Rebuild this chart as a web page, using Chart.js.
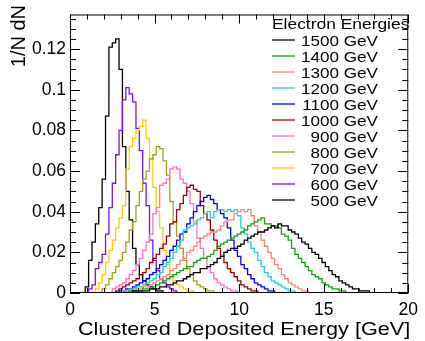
<!DOCTYPE html>
<html>
<head>
<meta charset="utf-8">
<script src="https://cdn.jsdelivr.net/npm/chart.js@4.4.1/dist/chart.umd.min.js"></script>
<style>
  html, body { margin: 0; padding: 0; background: #fff; }
  canvas { display: block; }
</style>
</head>
<body>
<canvas id="hist" width="425" height="341"></canvas>
<script>
// histogram data, 0.2 GeV bins, 1/N dN per bin
const binWidth = 0.2;
const labels = ['1500 GeV', '1400 GeV', '1300 GeV', '1200 GeV', '1100 GeV', '1000 GeV',
  '900 GeV', '800 GeV', '700 GeV', '600 GeV', '500 GeV'];
// lower edge of the first non-empty bin of each histogram (same order as labels)
const firstBin = [3.7, 3.5, 3.3, 3.1, 2.9, 2.7, 2.5, 1.9, 1.5, 1.1, 0.9];

const h1500 = [0.001, 0.001, 0.001, 0.001, 0.001, 0.002, 0.002, 0.002, 0.003, 0.003,
  0.004, 0.004, 0.005, 0.006, 0.006, 0.007, 0.008, 0.009, 0.010, 0.010,
  0.012, 0.012, 0.013, 0.014, 0.015, 0.017, 0.018, 0.020, 0.021, 0.022,
  0.022, 0.023, 0.024, 0.026, 0.027, 0.028, 0.029, 0.030, 0.030, 0.031,
  0.032, 0.033, 0.032, 0.034, 0.033, 0.033, 0.031, 0.030, 0.029, 0.027,
  0.025, 0.024, 0.022, 0.020, 0.019, 0.017, 0.015, 0.013, 0.011, 0.009,
  0.008, 0.006, 0.005, 0.004, 0.003, 0.002, 0.002, 0.001, 0.001, 0.001];
const h1400 = [0.001, 0.001, 0.001, 0.001, 0.002, 0.002, 0.002, 0.003, 0.004, 0.005,
  0.006, 0.007, 0.008, 0.009, 0.010, 0.011, 0.012, 0.013, 0.013, 0.015,
  0.016, 0.017, 0.017, 0.018, 0.019, 0.021, 0.023, 0.024, 0.025, 0.026,
  0.027, 0.028, 0.029, 0.030, 0.031, 0.033, 0.034, 0.035, 0.036, 0.037,
  0.034, 0.034, 0.033, 0.033, 0.032, 0.029, 0.028, 0.026, 0.022, 0.019,
  0.017, 0.015, 0.013, 0.011, 0.009, 0.008, 0.007, 0.005, 0.004, 0.003,
  0.002, 0.002, 0.001, 0.001];
const h1300 = [0.001, 0.001, 0.001, 0.002, 0.002, 0.003, 0.003, 0.004, 0.005, 0.006,
  0.007, 0.008, 0.009, 0.011, 0.012, 0.014, 0.016, 0.017, 0.020, 0.021,
  0.023, 0.025, 0.027, 0.028, 0.029, 0.030, 0.030, 0.031, 0.033, 0.035,
  0.036, 0.036, 0.039, 0.040, 0.041, 0.040, 0.041, 0.038, 0.033, 0.030,
  0.026, 0.023, 0.020, 0.017, 0.014, 0.012, 0.009, 0.007, 0.005, 0.004,
  0.003, 0.002, 0.001, 0.001];
const h1200 = [0.001, 0.001, 0.002, 0.002, 0.003, 0.003, 0.004, 0.005, 0.006, 0.007,
  0.009, 0.010, 0.013, 0.015, 0.017, 0.020, 0.023, 0.026, 0.031, 0.032,
  0.033, 0.034, 0.036, 0.037, 0.039, 0.040, 0.037, 0.040, 0.041, 0.041,
  0.040, 0.041, 0.040, 0.041, 0.038, 0.032, 0.029, 0.025, 0.022, 0.020,
  0.016, 0.013, 0.010, 0.008, 0.006, 0.005, 0.004, 0.003, 0.002, 0.001,
  0.001];
const h1100 = [0.001, 0.001, 0.002, 0.002, 0.003, 0.004, 0.005, 0.006, 0.007, 0.009,
  0.010, 0.012, 0.014, 0.016, 0.018, 0.021, 0.023, 0.026, 0.029, 0.030,
  0.034, 0.037, 0.040, 0.043, 0.045, 0.047, 0.048, 0.046, 0.044, 0.041,
  0.039, 0.037, 0.032, 0.026, 0.021, 0.018, 0.014, 0.012, 0.009, 0.007,
  0.005, 0.004, 0.003, 0.002, 0.001, 0.001];
const h1000 = [0.001, 0.002, 0.003, 0.004, 0.005, 0.006, 0.007, 0.009, 0.010, 0.012,
  0.015, 0.017, 0.019, 0.022, 0.024, 0.028, 0.034, 0.035, 0.041, 0.044,
  0.048, 0.052, 0.053, 0.051, 0.050, 0.043, 0.039, 0.036, 0.031, 0.026,
  0.022, 0.018, 0.015, 0.012, 0.010, 0.008, 0.006, 0.004, 0.003, 0.002,
  0.001, 0.001];
const h900 = [0.002, 0.003, 0.004, 0.005, 0.007, 0.009, 0.011, 0.014, 0.017, 0.021,
  0.025, 0.029, 0.039, 0.042, 0.053, 0.054, 0.056, 0.061, 0.062, 0.061,
  0.056, 0.054, 0.050, 0.044, 0.035, 0.027, 0.022, 0.017, 0.013, 0.010,
  0.007, 0.005, 0.004, 0.003, 0.002, 0.001, 0.001];
const h800 = [0.002, 0.004, 0.007, 0.010, 0.013, 0.016, 0.020, 0.025, 0.031, 0.035,
  0.043, 0.050, 0.056, 0.060, 0.066, 0.068, 0.072, 0.071, 0.065, 0.058,
  0.045, 0.035, 0.028, 0.022, 0.016, 0.012, 0.009, 0.006, 0.004, 0.003,
  0.002, 0.001, 0.001];
const h700 = [0.002, 0.005, 0.009, 0.015, 0.021, 0.026, 0.032, 0.037, 0.043, 0.061,
  0.072, 0.076, 0.080, 0.082, 0.085, 0.076, 0.066, 0.052, 0.040, 0.032,
  0.021, 0.014, 0.009, 0.006, 0.004, 0.003, 0.002, 0.001, 0.001];
const h600 = [0.002, 0.004, 0.012, 0.015, 0.019, 0.029, 0.042, 0.054, 0.068, 0.080,
  0.095, 0.101, 0.098, 0.094, 0.081, 0.070, 0.054, 0.043, 0.026, 0.016,
  0.011, 0.007, 0.005, 0.003, 0.002, 0.001];
const h500 = [0.003, 0.016, 0.025, 0.034, 0.042, 0.056, 0.087, 0.121, 0.123, 0.125,
  0.110, 0.072, 0.050, 0.036, 0.022, 0.014, 0.009, 0.006, 0.004, 0.003,
  0.002, 0.001, 0.001];

const histos = [h1500, h1400, h1300, h1200, h1100, h1000, h900, h800, h700, h600, h500];
const xTicks = [0, 5, 10, 15, 20];
const yTicks = [0, 0.02, 0.04, 0.06, 0.08, 0.1, 0.12];

const colors = ['#000000', '#12a012', '#ff8080', '#22d0d0', '#0000ff', '#a00000',
  '#ff6ec8', '#a3a010', '#ffcc00', '#7a10e6', '#000000'];
const FONT = "'Liberation Sans', Arial, sans-serif";

// outline of a histogram: run along 0, step through the bins, back to 0
function histPoints(start, values) {
  const pts = [{ x: xTicks[0], y: 0 }];
  values.forEach((v, k) => pts.push({ x: start + k * binWidth, y: v }));
  pts.push({ x: start + values.length * binWidth, y: 0 });
  pts.push({ x: xTicks[xTicks.length - 1], y: 0 });
  return pts;
}

// text drawn a bit wider, the original plot was stretched sideways
function wideText(ctx, str, x, y, align, sx) {
  ctx.save();
  ctx.translate(x, y);
  ctx.scale(sx, 1);
  ctx.textAlign = align;
  ctx.fillText(str, 0, 0);
  ctx.restore();
}

// ROOT style frame with inward ticks on all four sides + axis titles + legend
const rootDecor = {
  id: 'rootDecor',
  afterDatasetsDraw(chart) {
    const { ctx, chartArea: a, scales: { x, y } } = chart;
    ctx.save();
    ctx.strokeStyle = '#000';
    ctx.lineWidth = 1;
    ctx.strokeRect(a.left + 0.5, a.top + 0.5, a.right - a.left - 1, a.bottom - a.top - 1);

    ctx.beginPath();
    for (let v = x.min; v <= x.max; v += 1) {
      const px = Math.round(x.getPixelForValue(v)) + 0.5;
      const len = v % 5 === 0 ? 9 : 5;
      ctx.moveTo(px, a.bottom); ctx.lineTo(px, a.bottom - len);
      ctx.moveTo(px, a.top); ctx.lineTo(px, a.top + len);
    }
    for (let k = 0; k * 0.005 <= y.max; k++) {
      const py = Math.round(y.getPixelForValue(k * 0.005)) + 0.5;
      const len = k % 4 === 0 ? 10 : 6;
      ctx.moveTo(a.left, py); ctx.lineTo(a.left + len, py);
      ctx.moveTo(a.right, py); ctx.lineTo(a.right - len, py);
    }
    ctx.stroke();

    // axis titles
    ctx.fillStyle = '#000';
    ctx.textBaseline = 'alphabetic';
    ctx.font = '19px ' + FONT;
    wideText(ctx, 'Clustered Deposited Energy [GeV]', a.right + 2, 335, 'right', 1.14);
    ctx.save();
    ctx.translate(25, 5);
    ctx.rotate(-Math.PI / 2);
    ctx.font = '20px ' + FONT;
    ctx.textAlign = 'right';
    ctx.fillText('1/N dN', 0, 0);
    ctx.restore();

    // legend
    ctx.font = '15px ' + FONT;
    wideText(ctx, 'Electron Energies', 272, 28.5, 'left', 1.16);
    labels.forEach((lab, i) => {
      const rowY = 40 + i * 16;
      ctx.strokeStyle = colors[i];
      ctx.lineWidth = 1.3;
      ctx.beginPath();
      ctx.moveTo(272, rowY);
      ctx.lineTo(295, rowY);
      ctx.stroke();
      wideText(ctx, lab, 378, rowY + 5.5, 'right', 1.14);
    });
    ctx.restore();
  }
};

const datasets = histos.map((h, i) => ({
  label: labels[i],
  data: histPoints(firstBin[i], h),
  borderColor: colors[i],
  borderWidth: 1.3,
  stepped: true,
  pointRadius: 0,
  fill: false
}));

new Chart(document.getElementById('hist'), {
  type: 'line',
  data: { datasets },
  options: {
    responsive: false,
    animation: false,
    devicePixelRatio: 1,
    layout: { padding: { top: 7, right: 12, left: 0, bottom: 0 } },
    plugins: { legend: { display: false }, tooltip: { enabled: false } },
    scales: {
      x: {
        type: 'linear',
        min: xTicks[0],
        max: xTicks[xTicks.length - 1],
        afterFit: s => { s.height = 48; },
        afterBuildTicks: s => { s.ticks = xTicks.map(v => ({ value: v })); },
        grid: { display: false, drawTicks: false },
        border: { display: false },
        ticks: { color: '#000', padding: 7, maxRotation: 0, font: { family: FONT, size: 17.5 } }
      },
      y: {
        type: 'linear',
        min: 0,
        max: 0.137,
        afterFit: s => { s.width = 70; },
        afterBuildTicks: s => { s.ticks = yTicks.map(v => ({ value: v })); },
        grid: { display: false, drawTicks: false },
        border: { display: false },
        ticks: {
          color: '#000', padding: 4, font: { family: FONT, size: 17.5 },
          callback: v => String(+v.toFixed(3))
        }
      }
    }
  },
  plugins: [rootDecor]
});
</script>
</body>
</html>
